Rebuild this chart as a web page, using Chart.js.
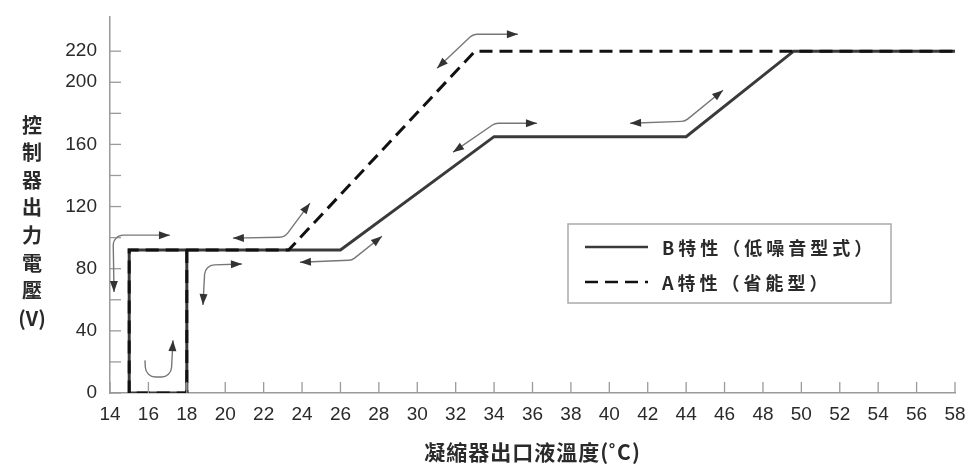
<!DOCTYPE html>
<html>
<head>
<meta charset="utf-8">
<script src="https://cdn.jsdelivr.net/npm/chart.js@4/dist/chart.umd.min.js"></script>
<style>
html, body { margin: 0; padding: 0; background: #fff; }
</style>
</head>
<body>
<canvas id="chart" width="968" height="466"></canvas>
<script>
// B characteristic (solid) and A characteristic (dashed), both share the 15-18 hysteresis box
const seriesBx = [18, 18, 15, 15, 18, 26, 34, 44, 49.6, 58];
const seriesBy = [92, 0, 0, 92, 92, 92, 165, 165, 220, 220];
const seriesAx = [18, 18, 15, 15, 18, 23.3, 33, 58];
const seriesAy = [92, 0, 0, 92, 92, 92, 220, 220];
const seriesLabels = ['B特性（低噪音型式）', 'A特性（省能型）'];

const xTicks = [14, 16, 18, 20, 22, 24, 26, 28, 30, 32, 34, 36, 38, 40, 42, 44, 46, 48, 50, 52, 54, 56, 58];
const yTicks = [0, 20, 40, 60, 80, 100, 120, 140, 160, 180, 200, 220];
const yLabels = [0, 40, 80, 120, 160, 200, 220];
const xTitle = '凝縮器出口液溫度(˚C)';
const yTitle = ['控', '制', '器', '出', '力', '電', '壓', '(V)'];

// hysteresis arrows, in data units: [points], head at start?, head at end?
const arrows = [
    { pts: [[14.21, 65], [14.16, 101.6], [17.12, 101.6]], start: true, end: true },
    { pts: [[15.82, 21], [15.87, 10.3], [17.18, 10.3], [17.28, 34]], start: false, end: true },
    { pts: [[18.84, 56.6], [18.95, 82.3], [20.87, 83]], start: true, end: true },
    { pts: [[20.4, 99.7], [23.1, 100.3], [24.41, 122.2]], start: true, end: true },
    { pts: [[23.89, 84.2], [26.6, 85.5], [28.16, 100.9]], start: true, end: true },
    { pts: [[31.03, 209], [32.9, 230.9], [35.24, 230.9]], start: true, end: true },
    { pts: [[31.86, 155], [34.05, 173.6], [36.23, 173.6]], start: true, end: true },
    { pts: [[41.08, 173.6], [43.94, 174.9], [45.92, 194.9]], start: true, end: true }
];

const tickFont = 'Liberation Sans';
const cjkFont = '"Noto Sans CJK TC", "Noto Sans CJK SC", sans-serif';
const axisColor = '#9a9a9a';
const textColor = '#2a2a2a';

function toPoints(xs, ys) {
    return xs.map((x, i) => ({ x: x, y: ys[i] }));
}

function drawHead(ctx, from, to) {
    const ang = Math.atan2(to.y - from.y, to.x - from.x);
    const len = 11, half = 4;
    ctx.beginPath();
    ctx.moveTo(to.x, to.y);
    ctx.lineTo(to.x - len * Math.cos(ang) + half * Math.sin(ang), to.y - len * Math.sin(ang) - half * Math.cos(ang));
    ctx.lineTo(to.x - len * Math.cos(ang) - half * Math.sin(ang), to.y - len * Math.sin(ang) + half * Math.cos(ang));
    ctx.closePath();
    ctx.fill();
}

const extras = {
    id: 'extras',
    afterDatasetsDraw(chart) {
        const ctx = chart.ctx;
        const xs = chart.scales.x, ys = chart.scales.y;
        const area = chart.chartArea;

        // inward tick marks
        ctx.save();
        ctx.strokeStyle = axisColor;
        ctx.lineWidth = 1.3;
        xTicks.forEach(v => {
            const px = xs.getPixelForValue(v);
            ctx.beginPath();
            ctx.moveTo(px, area.bottom);
            ctx.lineTo(px, area.bottom - 11);
            ctx.stroke();
        });
        yTicks.forEach(v => {
            const py = ys.getPixelForValue(v);
            ctx.beginPath();
            ctx.moveTo(area.left, py);
            ctx.lineTo(area.left + 11, py);
            ctx.stroke();
        });

        // arrows
        ctx.strokeStyle = '#777';
        ctx.fillStyle = '#333';
        ctx.lineWidth = 1.4;
        arrows.forEach(a => {
            const p = a.pts.map(d => ({ x: xs.getPixelForValue(d[0]), y: ys.getPixelForValue(d[1]) }));
            ctx.beginPath();
            ctx.moveTo(p[0].x, p[0].y);
            for (let i = 1; i < p.length - 1; i++) {
                ctx.arcTo(p[i].x, p[i].y, p[i + 1].x, p[i + 1].y, 10);
            }
            ctx.lineTo(p[p.length - 1].x, p[p.length - 1].y);
            ctx.stroke();
            if (a.start) drawHead(ctx, p[1], p[0]);
            if (a.end) drawHead(ctx, p[p.length - 2], p[p.length - 1]);
        });
        ctx.restore();
    },
    afterDraw(chart) {
        const ctx = chart.ctx;
        const area = chart.chartArea;
        ctx.save();

        // y title, stacked vertically
        ctx.fillStyle = textColor;
        ctx.font = 'bold 20px ' + cjkFont;
        ctx.textAlign = 'center';
        ctx.textBaseline = 'middle';
        yTitle.forEach((ch, i) => {
            ctx.fillText(ch, 32, 125 + i * 27.6);
        });

        // x title
        ctx.font = 'bold 21px ' + cjkFont;
        ctx.letterSpacing = '1px';
        ctx.fillText(xTitle, (area.left + area.right) / 2, area.bottom + 59);
        ctx.letterSpacing = '0px';

        // legend box
        const lx = area.left + 458, ly = 224, lw = 323, lh = 79;
        ctx.strokeStyle = '#aaa';
        ctx.lineWidth = 1.5;
        ctx.strokeRect(lx, ly, lw, lh);
        const ds = chart.data.datasets;
        [0, 1].forEach(i => {
            const y = ly + 23 + i * 35;
            ctx.beginPath();
            ctx.strokeStyle = ds[i].borderColor;
            ctx.lineWidth = 2.5;
            ctx.setLineDash(ds[i].borderDash || []);
            ctx.moveTo(lx + 17, y);
            ctx.lineTo(lx + 80, y);
            ctx.stroke();
            ctx.setLineDash([]);
            ctx.fillStyle = textColor;
            ctx.font = 'bold 18px ' + cjkFont;
            ctx.textAlign = 'left';
            ctx.letterSpacing = '4px';
            ctx.fillText(ds[i].label, lx + 94, y + 1);
            ctx.letterSpacing = '0px';
        });
        ctx.restore();
    }
};

new Chart(document.getElementById('chart'), {
    type: 'scatter',
    data: {
        datasets: [
            {
                label: seriesLabels[0],
                data: toPoints(seriesBx, seriesBy),
                showLine: true,
                borderColor: '#3a3a3a',
                borderWidth: 3,
                pointRadius: 0,
                order: 2
            },
            {
                label: seriesLabels[1],
                data: toPoints(seriesAx, seriesAy),
                showLine: true,
                borderColor: '#111',
                borderWidth: 3,
                borderDash: [13, 7],
                pointRadius: 0,
                order: 1
            }
        ]
    },
    options: {
        responsive: false,
        animation: false,
        layout: { padding: { top: 17, right: 13, left: 0, bottom: 0 } },
        plugins: {
            legend: { display: false },
            tooltip: { enabled: false }
        },
        scales: {
            x: {
                type: 'linear',
                min: 14,
                max: 58,
                afterBuildTicks: s => { s.ticks = xTicks.map(v => ({ value: v })); },
                afterFit: s => { s.height = 73; s.paddingLeft = 0; s.paddingRight = 0; },
                ticks: {
                    autoSkip: false,
                    maxRotation: 0,
                    padding: 10,
                    color: textColor,
                    font: { family: tickFont, size: 19 }
                },
                grid: { drawOnChartArea: false, drawTicks: false },
                border: { color: axisColor, width: 1.5 }
            },
            y: {
                min: 0,
                max: 242,
                afterBuildTicks: s => { s.ticks = yTicks.map(v => ({ value: v })); },
                afterFit: s => { s.width = 110; s.paddingTop = 0; s.paddingBottom = 0; },
                ticks: {
                    autoSkip: false,
                    padding: 13,
                    color: textColor,
                    font: { family: tickFont, size: 19 },
                    callback: v => yLabels.includes(v) ? v : ''
                },
                grid: { drawOnChartArea: false, drawTicks: false },
                border: { color: axisColor, width: 1.5 }
            }
        }
    },
    plugins: [extras]
});
</script>
</body>
</html>
